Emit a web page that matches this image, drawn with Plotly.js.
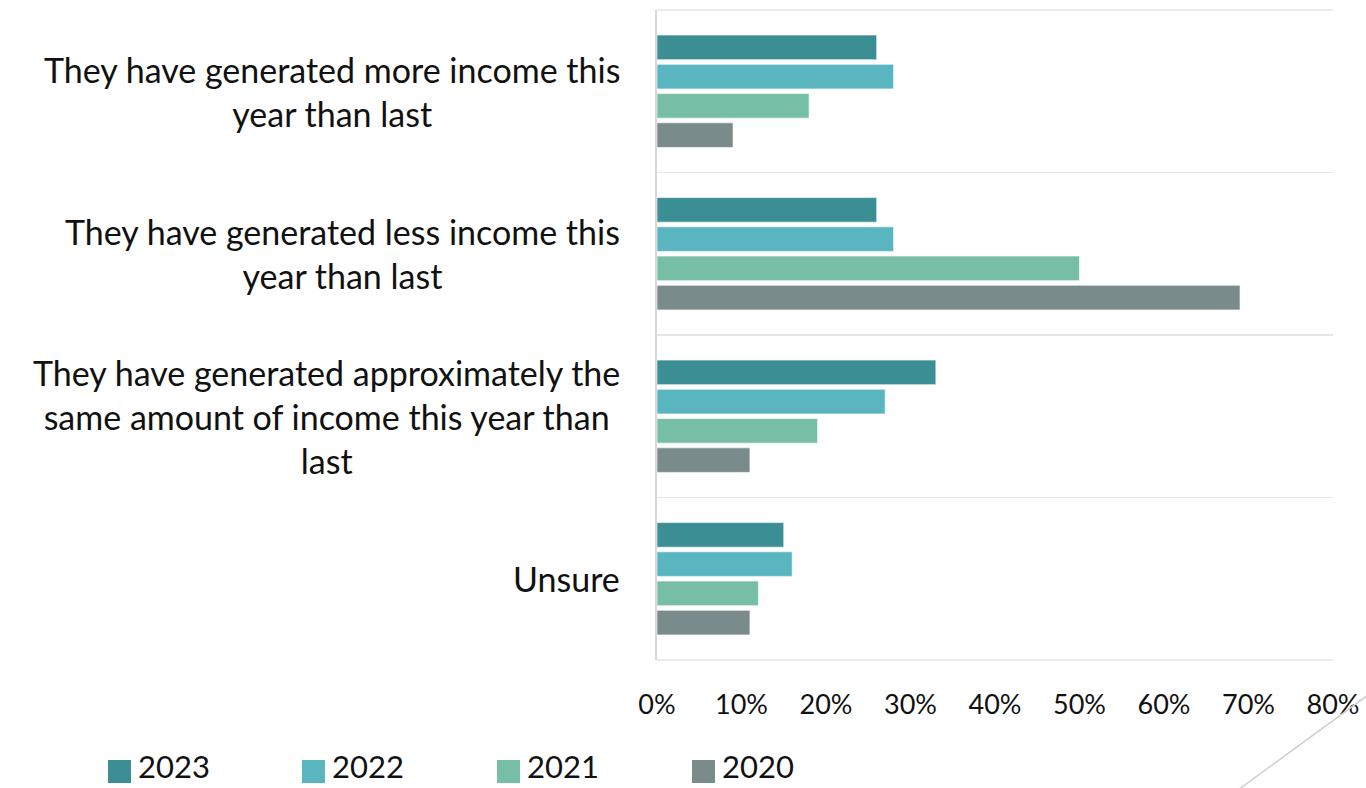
<!DOCTYPE html>
<html>
<head>
<meta charset="utf-8">
<script src="https://cdn.plot.ly/plotly-3.0.1.min.js"></script>
<style>html,body{margin:0;padding:0;background:#fff;}#chart{width:1366px;height:788px;}</style>
</head>
<body>
<div id="chart"></div>
<script>
const categories = [
  "They have generated more income this<br>year than last",
  "They have generated less income this<br>year than last",
  "They have generated approximately the<br>same amount of income this year than<br>last",
  "Unsure"
];
const seriesNames = ["2023", "2022", "2021", "2020"];
const values2023 = [26, 26, 33, 15];
const values2022 = [28, 28, 27, 16];
const values2021 = [18, 50, 19, 12];
const values2020 = [9, 69, 11, 11];
const seriesValues = [values2023, values2022, values2021, values2020];
const colors = ["#3a8e94", "#59b6c0", "#77bea6", "#7a8b8c"];
const xTickVals = [0, 10, 20, 30, 40, 50, 60, 70, 80];

const catIdx = categories.map((c, i) => i);
const traces = seriesNames.map((name, s) => ({
  type: "bar",
  orientation: "h",
  name: name,
  y: catIdx,
  x: seriesValues[s],
  marker: {color: colors[s], line: {color: "rgba(255,255,255,0.6)", width: 1}},
  hoverinfo: "x+name"
}));

const FONT = "Lato, 'Open Sans', sans-serif";
const PX = p => (p - 657) / 676;   // pixel x -> paper x
const PY = p => (660 - p) / 650;   // pixel y -> paper y

const annotations = categories.map((c, i) => ({
  xref: "paper", yref: "y", x: PX(622), y: i,
  xanchor: "right", yanchor: "middle", align: "center",
  text: c, showarrow: false,
  font: {family: FONT, size: 34, color: "#111"}
}));

// custom legend
const legX = [108, 302, 497, 692];
const shapes = [];
seriesNames.forEach((n, s) => {
  shapes.push({type: "rect", xref: "paper", yref: "paper",
    x0: PX(legX[s]), x1: PX(legX[s] + 23), y0: PY(783), y1: PY(760),
    fillcolor: colors[s], line: {width: 0}});
  annotations.push({xref: "paper", yref: "paper", x: PX(legX[s] + 29), y: PY(766),
    xanchor: "left", yanchor: "middle", text: n, showarrow: false,
    borderpad: 0,
    font: {family: FONT, size: 31, color: "#111"}});
});
// top and bottom separators
shapes.push({type: "line", xref: "paper", yref: "paper", x0: 0, x1: 1, y0: 1, y1: 1,
  line: {color: "#e6e6e6", width: 1.5}});
shapes.push({type: "line", xref: "paper", yref: "paper", x0: 0, x1: 1, y0: 0, y1: 0,
  line: {color: "#e6e6e6", width: 1.5}});
// decorative diagonal line
shapes.push({type: "line", xref: "paper", yref: "paper",
  x0: PX(1238), y0: PY(790), x1: PX(1368), y1: PY(695),
  line: {color: "#cfcfcf", width: 1.5}});

const layout = {
  width: 1366, height: 788,
  margin: {l: 657, r: 33, t: 10, b: 128},
  paper_bgcolor: "#fff", plot_bgcolor: "#fff",
  barmode: "group", bargap: 0.28, bargroupgap: 0.16,
  showlegend: false,
  font: {family: FONT, color: "#111"},
  xaxis: {
    range: [0, 80], tickvals: xTickVals, ticktext: xTickVals.map(v => v + "%"),
    showgrid: false, zeroline: false, showline: false,
    ticks: "", ticklabelstandoff: 26,
    tickfont: {family: FONT, size: 27, color: "#111"}
  },
  yaxis: {
    type: "linear", range: [3.5, -0.5], tickvals: [-0.5, 0.5, 1.5, 2.5, 3.5],
    showticklabels: false, showgrid: true, gridcolor: "#e6e6e6", gridwidth: 1.5,
    zeroline: false, showline: true, linecolor: "#d9d9d9", linewidth: 2, ticks: ""
  },
  annotations: annotations,
  shapes: shapes
};

Plotly.newPlot("chart", traces, layout, {displayModeBar: false, staticPlot: true});
</script>
</body>
</html>
